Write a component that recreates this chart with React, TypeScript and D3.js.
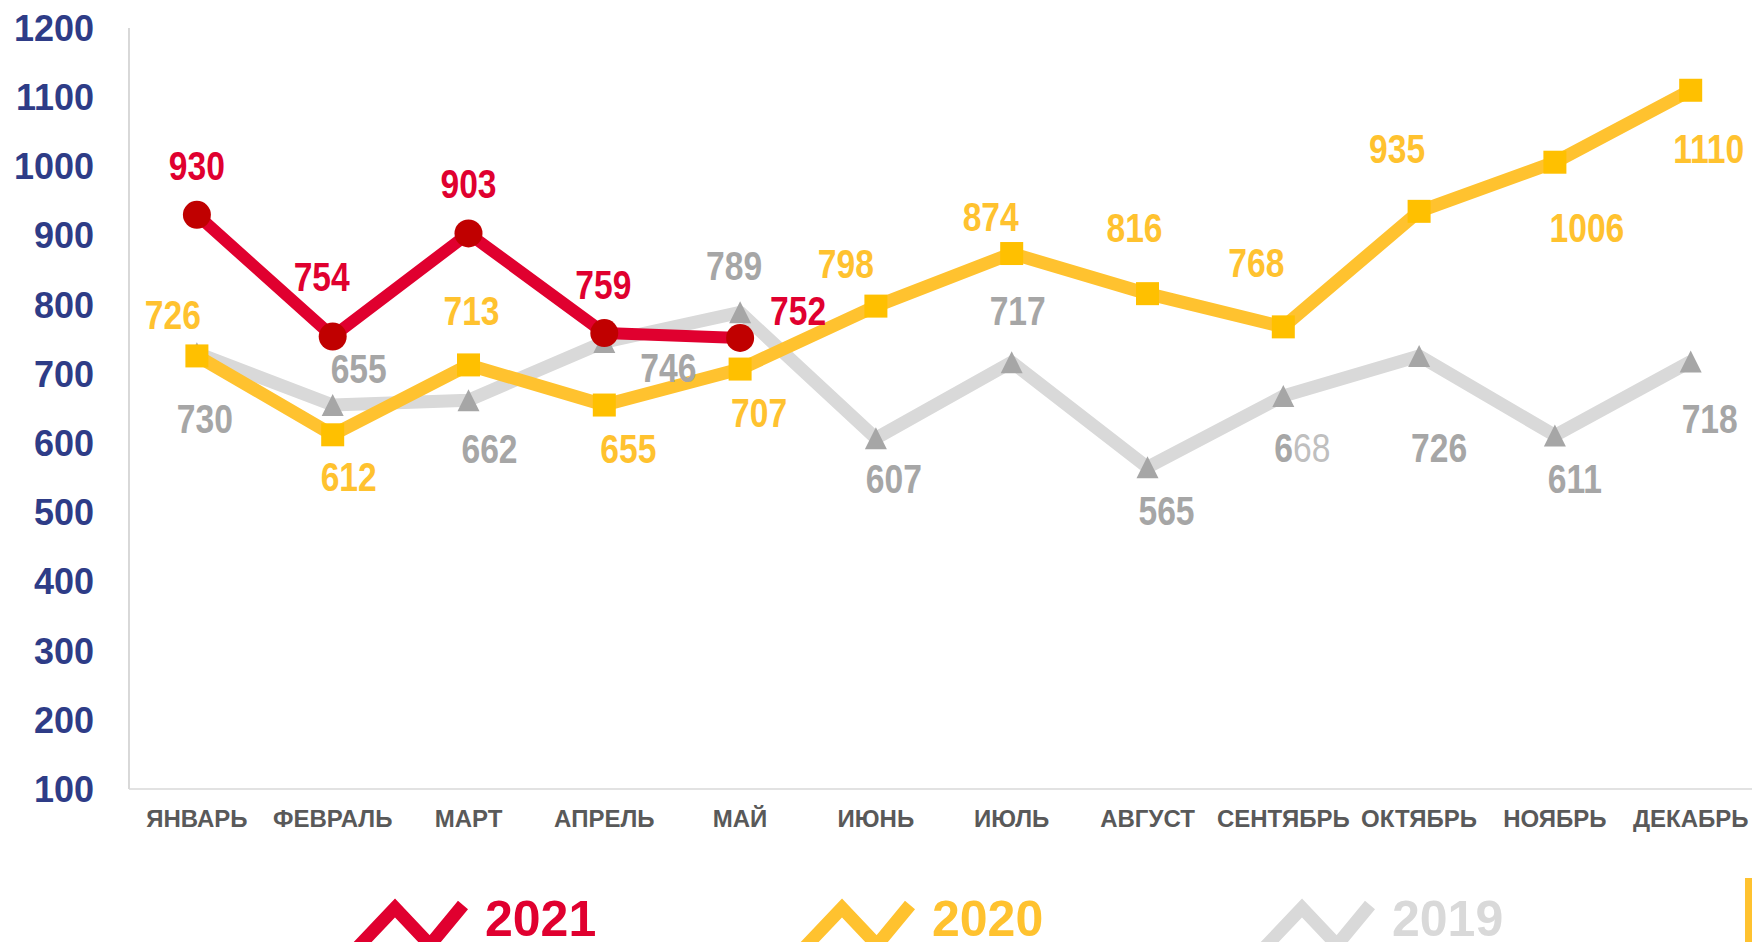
import React from 'react';
import * as d3 from 'd3';

const months = ['ЯНВАРЬ', 'ФЕВРАЛЬ', 'МАРТ', 'АПРЕЛЬ', 'МАЙ', 'ИЮНЬ', 'ИЮЛЬ', 'АВГУСТ', 'СЕНТЯБРЬ', 'ОКТЯБРЬ', 'НОЯБРЬ', 'ДЕКАБРЬ'];
const yTicks = [100, 200, 300, 400, 500, 600, 700, 800, 900, 1000, 1100, 1200];
const values2021 = [930, 754, 903, 759, 752];
const values2020 = [726, 612, 713, 655, 707, 798, 874, 816, 768, 935, 1006, 1110];
const values2019 = [730, 655, 662, 746, 789, 607, 717, 565, 668, 726, 611, 718];
const seriesNames = ['2021', '2020', '2019'];

// label offsets (dx, dy) from each point to the label centre
const offs2021 = [[0, -49], [-11, -60], [0, -50], [-1, -49], [58, -28]];
const offs2020 = [[-24, -42], [16, 42], [3, -55], [24, 43], [19, 43], [-30, -43], [-21, -37], [-13, -66], [-27, -65], [-22, -63], [32, 65], [18, 58]];
const offs2019 = [[8, 65], [26, -37], [21, 48], [64, 25], [-6, -47], [18, 40], [6, -52], [19, 43], [19, 51], [20, 91], [20, 43], [19, 57]];

const W = 1752;
const H = 942;
const FONT = "'Liberation Sans', Arial, sans-serif";

const RED_LINE = '#E0002F';
const RED_MARK = '#C00000';
const YEL_LINE = '#FFC22F';
const YEL_MARK = '#FFC000';
const GRY_LINE = '#D9D9D9';
const GRY_MARK = '#A6A6A6';

export default function App() {
  const x = d3.scalePoint<string>().domain(months).range([129, 1758.6]).padding(0.5);
  const y = d3.scaleLinear().domain([100, 1200]).range([789, 28]);
  const line = d3.line<number>().x((_, i) => x(months[i]) as number).y((d) => y(d));

  const LBL = 41;
  const label = (v: number, i: number, off: number[], color: string, key: string) => {
    const cx = (x(months[i]) as number) + off[0];
    const cy = y(v) + off[1] + 0.358 * LBL;
    const content = key === 'g8' ? (
      <>
        <tspan>6</tspan>
        <tspan fill="#BFBFBF" fontWeight="normal">68</tspan>
      </>
    ) : String(v);
    return (
      <text key={key} transform={`translate(${cx},${cy}) scale(0.82,1)`} textAnchor="middle"
        fontFamily={FONT} fontWeight="bold" fontSize={LBL} fill={color}>{content}</text>
    );
  };

  const legendX = [353, 800, 1260];
  const legendColors = [RED_LINE, YEL_LINE, GRY_LINE];

  return (
    <svg width={W} height={H} style={{ position: 'absolute', left: 0, top: 0, display: 'block' }}>
      <rect x={0} y={0} width={W} height={H} fill="#ffffff" />
      {/* axes */}
      <line x1={129} x2={129} y1={y(1200)} y2={y(100)} stroke="#BFBFBF" strokeWidth={1.2} />
      <line x1={129} x2={W} y1={y(100)} y2={y(100)} stroke="#D9D9D9" strokeWidth={1.6} />
      {yTicks.map((t) => (
        <text key={t} x={94} y={y(t) + 12.9} textAnchor="end" fontFamily={FONT} fontWeight="bold"
          fontSize={36} fill="#2E3C87">{t}</text>
      ))}
      {months.map((m) => (
        <text key={m} x={x(m) as number} y={827} textAnchor="middle" fontFamily={FONT} fontWeight="bold"
          fontSize={24} fill="#595959">{m}</text>
      ))}

      {/* 2019 */}
      <path d={line(values2019) as string} fill="none" stroke={GRY_LINE} strokeWidth={13} strokeLinejoin="round" />
      {values2019.map((v, i) => {
        const px = x(months[i]) as number;
        const py = y(v);
        return <path key={'t' + i} d={`M${px - 11},${py + 11}L${px + 11},${py + 11}L${px},${py - 11}Z`} fill={GRY_MARK} />;
      })}

      {/* 2020 */}
      <path d={line(values2020) as string} fill="none" stroke={YEL_LINE} strokeWidth={13} strokeLinejoin="round" />
      {values2020.map((v, i) => (
        <rect key={'s' + i} x={(x(months[i]) as number) - 11.5} y={y(v) - 11.5} width={23} height={23} fill={YEL_MARK} />
      ))}

      {/* 2021 */}
      <path d={line(values2021) as string} fill="none" stroke={RED_LINE} strokeWidth={12} strokeLinejoin="round" />
      {values2021.map((v, i) => (
        <circle key={'c' + i} cx={x(months[i]) as number} cy={y(v)} r={14} fill={RED_MARK} />
      ))}

      {/* labels */}
      {values2019.map((v, i) => label(v, i, offs2019[i], GRY_MARK, 'g' + i))}
      {values2020.map((v, i) => label(v, i, offs2020[i], YEL_LINE, 'y' + i))}
      {values2021.map((v, i) => label(v, i, offs2021[i], RED_LINE, 'r' + i))}

      {/* legend */}
      {seriesNames.map((n, i) => {
        const L = legendX[i];
        return (
          <g key={n}>
            <polyline points={`${L + 4},${948} ${L + 42},${908} ${L + 77},${945} ${L + 110},${905}`}
              fill="none" stroke={legendColors[i]} strokeWidth={13} strokeLinejoin="miter" />
            <text x={L + 132} y={936} fontFamily={FONT} fontWeight="bold" fontSize={50}
              fill={legendColors[i]}>{n}</text>
          </g>
        );
      })}
      <rect x={1745} y={878} width={7} height={64} fill={YEL_LINE} />
    </svg>
  );
}
